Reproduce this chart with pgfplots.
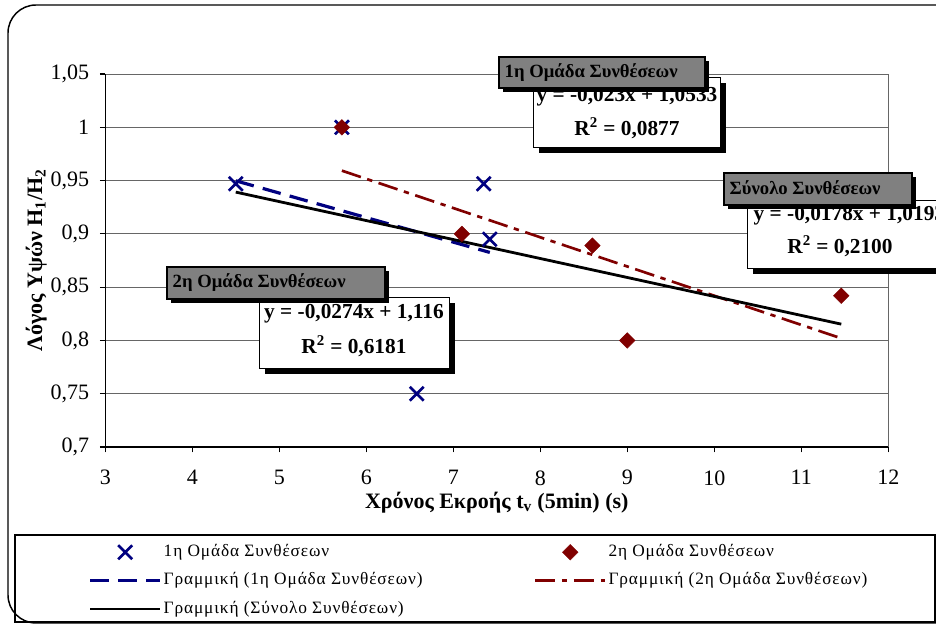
\documentclass[border=0pt]{standalone}
\usepackage{pgfplots}
\pgfplotsset{compat=1.18}
\usepackage{fontspec}
\setmainfont{Liberation Serif}

\definecolor{grpone}{RGB}{0,0,128}
\definecolor{grptwo}{RGB}{128,0,0}
\definecolor{titlegray}{RGB}{128,128,128}

% group 1 measurements
\pgfplotstableread{
x y
4.50 0.947
5.72 1.000
7.35 0.947
7.42 0.895
6.58 0.750
}\grpA
% group 2 measurements
\pgfplotstableread{
x y
5.72 1.000
7.10 0.900
8.60 0.889
9.00 0.800
11.46 0.842
}\grpB

\newcommand{\eqbox}[4]{% x1,y1,x2,y2 (white box with black drop shadow)
  \fill[black] (#1+6,#2-6) rectangle (#3+6,#4-6);
  \draw[fill=white,line width=0.5pt] (#1,#2) rectangle (#3,#4);}
\newcommand{\titlebox}[4]{% grey title box
  \fill[black] (#1+4,#2-4) rectangle (#3+4,#4-4);
  \draw[fill=titlegray,line width=1.2pt] (#1,#2) rectangle (#3,#4);}

\begin{document}
\begin{tikzpicture}[x=0.75pt,y=0.75pt]
\begin{scope}
\clip (0,0) rectangle (936,625);
\fill[white] (0,0) rectangle (936,625);
\draw[line width=1.1pt,rounded corners=21pt] (8,2) rectangle (990,620);

\begin{axis}[
  at={(121,167)}, anchor=south west,
  scale only axis, width=587.25pt, height=279.75pt,
  xmin=3, xmax=12, ymin=0.7, ymax=1.05,
  xtick={3,4,5,6,7,8,9,10,11,12},
  ytick={0.7,0.75,0.8,0.85,0.9,0.95,1,1.05},
  axis x line*=bottom, axis y line*=left,
  axis line style={black,line width=0.8pt},
  ymajorgrids, grid style={black!60,line width=0.6pt},
  tick align=outside, major tick length=4pt,
  tick style={black,line width=0.8pt},
  /pgf/number format/.cd, use comma, assume math mode=true,
  /pgfplots/.cd,
  ticklabel style={font=\fontsize{16.5}{19}\selectfont},
  xticklabel style={yshift=-10pt},
  yticklabel style={xshift=-4.5pt},
  xlabel={\bfseries Χρόνος Εκροής t\textsubscript{v} (5min) (s)},
  ylabel={\bfseries Λόγος Υψών H\textsubscript{1}/H\textsubscript{2}},
  label style={font=\fontsize{16.5}{19}\selectfont},
  xlabel style={at={(axis description cs:0.5,-0.148)},anchor=center},
  ylabel style={at={(axis description cs:-0.0881,0.5)},anchor=center},
  clip=false,
  legend columns=2,
  legend cell align=left,
  legend image code/.code={\draw[mark repeat=2,mark phase=2,#1] plot coordinates {(0pt,0pt)(26.25pt,0pt)(52.5pt,0pt)};},
  legend style={draw=none,fill=none,inner sep=0pt,
    at={(axis description cs:-0.0217,-0.2528)},anchor=north west,
    font=\fontsize{13}{15}\selectfont\addfontfeature{LetterSpace=5},
    nodes={inner xsep=1.5pt,inner ysep=2pt,text height=9pt,text depth=3pt},
    row sep=5.3pt,
    /tikz/column 2/.style={column sep=82pt}},
]
\addplot[only marks,mark=x,mark size=7.4pt,grpone,mark options={line width=2pt}] table[x=x,y=y]{\grpA};
\addlegendentry{1η Ομάδα Συνθέσεων}
\addplot[only marks,mark=square*,mark size=4.1pt,grptwo,mark options={rotate=45}] table[x=x,y=y]{\grpB};
\addlegendentry{2η Ομάδα Συνθέσεων}
% linear trend lines from the fitted equations
\addplot[grpone,line width=2.4pt,dash pattern=on 14pt off 7pt] coordinates {(4.50,0.9498) (7.42,0.8826)};
\addlegendentry{Γραμμική (1η Ομάδα Συνθέσεων)}
\addplot[grptwo,line width=2pt,dash pattern=on 15pt off 5pt on 4pt off 5pt] coordinates {(5.72,0.9593) (11.46,0.8020)};
\addlegendentry{Γραμμική (2η Ομάδα Συνθέσεων)}
\addplot[black,line width=2.1pt] coordinates {(4.50,0.9392) (11.46,0.8153)};
\addlegendentry{Γραμμική (Σύνολο Συνθέσεων)}
\draw[black!60,line width=0.6pt] (rel axis cs:1,0) -- (rel axis cs:1,1);
\end{axis}

% legend frame
\draw[line width=0.8pt] (15,3) rectangle (935,90);

% fitted-equation boxes
\eqbox{533}{548}{720}{478}
\node[font=\bfseries\fontsize{16}{18}\selectfont] at (627,528) {y = -0,023x + 1,0533};
\node[font=\bfseries\fontsize{16}{18}\selectfont] at (627,497) {R\textsuperscript{2} = 0,0877};
\titlebox{499}{568}{705}{537}
\node[font=\bfseries\fontsize{14}{16}\selectfont,anchor=west] at (500,552) {1η Ομάδα Συνθέσεων};

\eqbox{747}{425}{990}{357}
\node[font=\bfseries\fontsize{16}{18}\selectfont,anchor=west] at (749,409) {y = -0,0178x + 1,0193};
\node[font=\bfseries\fontsize{16}{18}\selectfont] at (840,379) {R\textsuperscript{2} = 0,2100};
\titlebox{724}{452}{912}{420}
\node[font=\bfseries\fontsize{14}{16}\selectfont,anchor=west] at (725,437) {Σύνολο Συνθέσεων};

\eqbox{259}{328}{449}{257}
\node[font=\bfseries\fontsize{16}{18}\selectfont] at (354,311) {y = -0,0274x + 1,116};
\node[font=\bfseries\fontsize{16}{18}\selectfont] at (354,279) {R\textsuperscript{2} = 0,6181};
\titlebox{167}{358}{385}{326}
\node[font=\bfseries\fontsize{14}{16}\selectfont,anchor=west] at (168,342) {2η Ομάδα Συνθέσεων};
\end{scope}
\pgfresetboundingbox
\useasboundingbox (0,0) rectangle (936,625);
\end{tikzpicture}
\end{document}
